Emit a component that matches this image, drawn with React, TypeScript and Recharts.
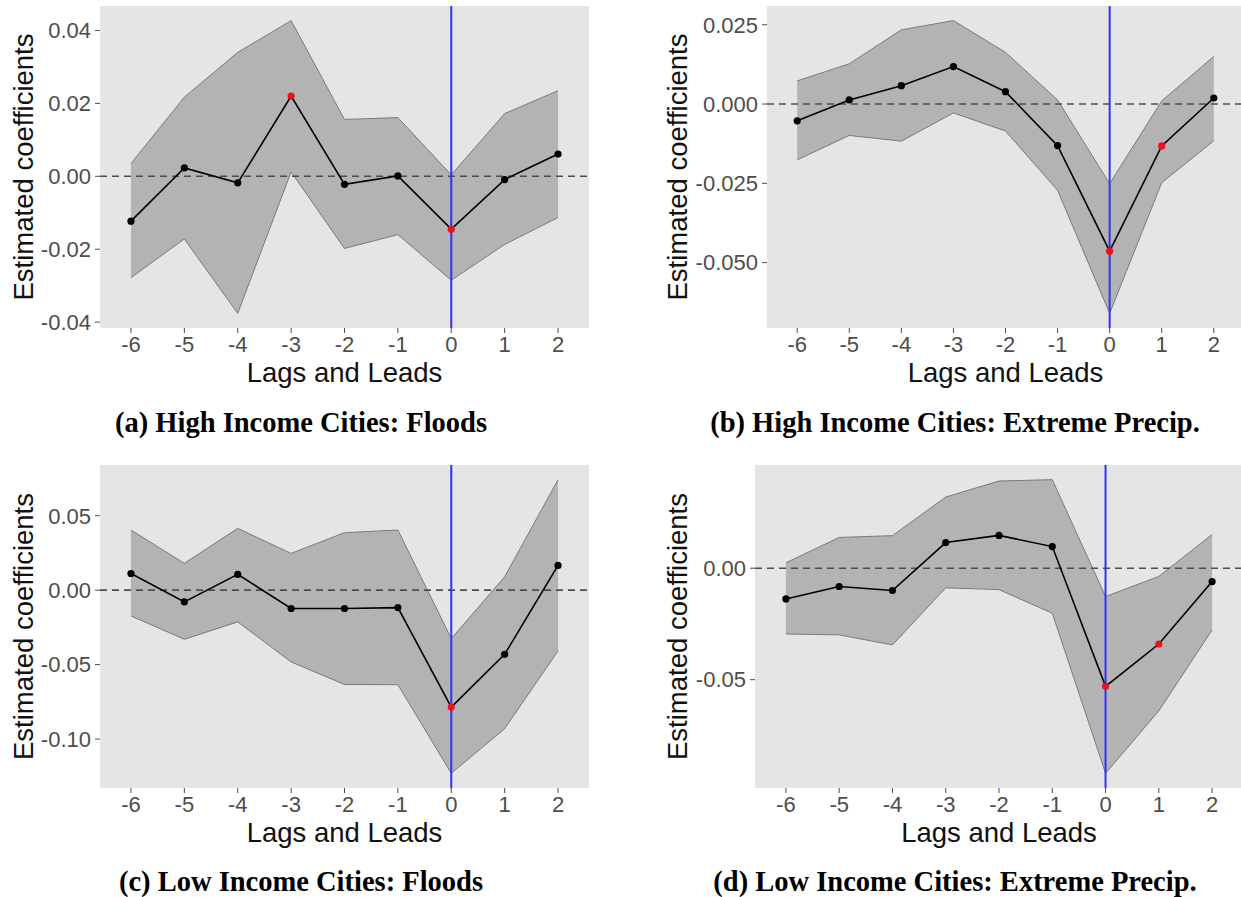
import React from "react";
import {
  ComposedChart,
  Area,
  Line,
  XAxis,
  YAxis,
  CartesianGrid,
  ReferenceLine,
} from "recharts";

const lags = [-6, -5, -4, -3, -2, -1, 0, 1, 2];

// (a) High Income Cities: Floods
const coefA = [-0.0123, 0.0023, -0.0018, 0.022, -0.0022, 0.0001, -0.0145, -0.0009, 0.0061];
const upperA = [0.0035, 0.0217, 0.034, 0.0427, 0.0156, 0.0161, 0.0004, 0.0172, 0.0235];
const lowerA = [-0.0278, -0.0172, -0.0376, 0.0012, -0.0198, -0.016, -0.0285, -0.0187, -0.0113];
const sigA = [0, 0, 0, 1, 0, 0, 1, 0, 0];
const ticksA = [-0.04, -0.02, 0, 0.02, 0.04];

// (b) High Income Cities: Extreme Precip.
const coefB = [-0.0053, 0.0013, 0.0058, 0.0118, 0.0039, -0.0131, -0.0464, -0.0132, 0.0019];
const upperB = [0.0073, 0.0127, 0.0234, 0.0263, 0.0163, 0.0013, -0.0251, 0.001, 0.015];
const lowerB = [-0.0176, -0.0099, -0.0117, -0.0028, -0.0085, -0.0272, -0.066, -0.0248, -0.0116];
const sigB = [0, 0, 0, 0, 0, 0, 1, 1, 0];
const ticksB = [-0.05, -0.025, 0, 0.025];

// (c) Low Income Cities: Floods
const coefC = [0.0112, -0.0079, 0.0106, -0.0123, -0.0123, -0.0117, -0.0785, -0.0431, 0.0166];
const upperC = [0.0404, 0.018, 0.0415, 0.0247, 0.0386, 0.0404, -0.0325, 0.009, 0.0742];
const lowerC = [-0.0173, -0.033, -0.0213, -0.0482, -0.0633, -0.0635, -0.123, -0.093, -0.0408];
const sigC = [0, 0, 0, 0, 0, 0, 1, 0, 0];
const ticksC = [-0.1, -0.05, 0, 0.05];

// (d) Low Income Cities: Extreme Precip.
const coefD = [-0.0138, -0.0082, -0.01, 0.0115, 0.0147, 0.0097, -0.053, -0.034, -0.006];
const upperD = [0.0024, 0.0138, 0.0146, 0.0319, 0.0391, 0.0397, -0.0127, -0.0037, 0.0151];
const lowerD = [-0.0295, -0.0299, -0.0344, -0.0088, -0.0096, -0.0202, -0.092, -0.064, -0.0277];
const sigD = [0, 0, 0, 0, 0, 0, 1, 1, 0];
const ticksD = [-0.05, 0];

const captions = [
  "(a) High Income Cities: Floods",
  "(b) High Income Cities: Extreme Precip.",
  "(c) Low Income Cities: Floods",
  "(d) Low Income Cities: Extreme Precip.",
];

const SANS = "'Liberation Sans', Arial, sans-serif";
const SERIF = "'Liberation Serif', 'Times New Roman', serif";

function build(coef: number[], upper: number[], lower: number[], sig: number[]) {
  return lags.map((lag, i) => ({
    lag,
    coef: coef[i],
    band: [lower[i], upper[i]],
    sig: sig[i],
  }));
}

function expandDomain(upper: number[], lower: number[]): [number, number] {
  const max = Math.max(...upper);
  const min = Math.min(...lower);
  const pad = (max - min) * 0.05;
  return [min - pad, max + pad];
}

type PanelProps = {
  left: number;
  top: number;
  width: number;
  height: number;
  yAxisWidth: number;
  marginTop: number;
  marginRight: number;
  xAxisHeight: number;
  marginBottom: number;
  titleX: number;
  data: any[];
  domain: [number, number];
  ticks: number[];
  decimals: number;
};

function Panel(p: PanelProps) {
  const dot = (props: any) => {
    const { cx, cy, payload, index } = props;
    return (
      <circle
        key={"d" + index}
        cx={cx}
        cy={cy}
        r={3.6}
        fill={payload.sig ? "#E8141B" : "#000000"}
        stroke="none"
      />
    );
  };
  const yLabel = (props: any) => {
    const vb = props.viewBox || {};
    const cx = p.titleX;
    const cy = vb.y + vb.height / 2;
    return (
      <text
        x={cx}
        y={cy}
        transform={`rotate(-90 ${cx} ${cy})`}
        textAnchor="middle"
        dominantBaseline="central"
        fontSize={27.5}
        fontFamily={SANS}
        fill="#111"
      >
        Estimated coefficients
      </text>
    );
  };
  const xLabel = (props: any) => {
    const vb = props.viewBox || {};
    const cx = vb.x + vb.width / 2;
    const cy = vb.y + 44;
    return (
      <text
        x={cx}
        y={cy}
        textAnchor="middle"
        dominantBaseline="central"
        fontSize={27.5}
        fontFamily={SANS}
        fill="#111"
      >
        Lags and Leads
      </text>
    );
  };
  return (
    <div style={{ position: "absolute", left: p.left, top: p.top, width: p.width, height: p.height }}>
      <ComposedChart
        width={p.width}
        height={p.height}
        data={p.data}
        margin={{ top: p.marginTop, right: p.marginRight, bottom: p.marginBottom, left: 0 }}
      >
        <CartesianGrid fill="#E5E5E5" stroke="none" horizontal={false} vertical={false} />
        <XAxis
          type="number"
          dataKey="lag"
          domain={[-6.58, 2.58]}
          ticks={lags}
          allowDataOverflow
          axisLine={false}
          tickLine={{ stroke: "#4D4D4D" }}
          tickSize={5}
          tickMargin={3}
          height={p.xAxisHeight}
          tick={{ fill: "#4D4D4D", fontSize: 22, fontFamily: SANS }}
          interval={0}
          label={xLabel}
        />
        <YAxis
          type="number"
          domain={p.domain}
          ticks={p.ticks}
          allowDataOverflow
          axisLine={false}
          tickLine={{ stroke: "#4D4D4D" }}
          tickSize={5}
          tickMargin={4}
          width={p.yAxisWidth}
          interval={0}
          tick={{ fill: "#4D4D4D", fontSize: 22, fontFamily: SANS }}
          tickFormatter={(v: number) => v.toFixed(p.decimals)}
          label={yLabel}
        />
        <Area
          type="linear"
          dataKey="band"
          fill="#B3B3B3"
          fillOpacity={1}
          stroke="#7A7A7A"
          strokeWidth={1}
          isAnimationActive={false}
          dot={false}
          activeDot={false}
        />
        <ReferenceLine y={0} stroke="#4D4D4D" strokeWidth={1.6} strokeDasharray="7 5" />
        <ReferenceLine x={0} stroke="#3030FF" strokeWidth={2} />
        <Line
          type="linear"
          dataKey="coef"
          stroke="#000000"
          strokeWidth={1.6}
          dot={dot}
          activeDot={false}
          isAnimationActive={false}
        />
      </ComposedChart>
    </div>
  );
}

const dataA = build(coefA, upperA, lowerA, sigA);
const dataB = build(coefB, upperB, lowerB, sigB);
const dataC = build(coefC, upperC, lowerC, sigC);
const dataD = build(coefD, upperD, lowerD, sigD);

function Caption({ x, y, text }: { x: number; y: number; text: string }) {
  return (
    <div
      style={{
        position: "absolute",
        left: x - 300,
        width: 600,
        top: y - 18,
        height: 36,
        lineHeight: "36px",
        textAlign: "center",
        fontFamily: SERIF,
        fontWeight: "bold",
        fontSize: 28.5,
        color: "#000",
        whiteSpace: "nowrap",
      }}
    >
      {text}
    </div>
  );
}

export default function App() {
  return (
    <div
      style={{
        position: "absolute",
        left: 0,
        top: 0,
        width: 1241,
        height: 897,
        overflow: "hidden",
        background: "#fff",
      }}
    >
      <Panel
        left={0}
        top={0}
        width={620}
        height={440}
        yAxisWidth={100}
        marginTop={6}
        marginRight={31}
        xAxisHeight={70}
        marginBottom={42}
        titleX={23}
        data={dataA}
        domain={expandDomain(upperA, lowerA)}
        ticks={ticksA}
        decimals={2}
      />
      <Panel
        left={620}
        top={0}
        width={624}
        height={440}
        yAxisWidth={147}
        marginTop={6}
        marginRight={0}
        xAxisHeight={70}
        marginBottom={42}
        titleX={57}
        data={dataB}
        domain={expandDomain(upperB, lowerB)}
        ticks={ticksB}
        decimals={3}
      />
      <Panel
        left={0}
        top={440}
        width={620}
        height={457}
        yAxisWidth={100}
        marginTop={25}
        marginRight={31}
        xAxisHeight={70}
        marginBottom={39}
        titleX={23}
        data={dataC}
        domain={expandDomain(upperC, lowerC)}
        ticks={ticksC}
        decimals={2}
      />
      <Panel
        left={620}
        top={440}
        width={623}
        height={457}
        yAxisWidth={135}
        marginTop={25}
        marginRight={0}
        xAxisHeight={70}
        marginBottom={39}
        titleX={57}
        data={dataD}
        domain={expandDomain(upperD, lowerD)}
        ticks={ticksD}
        decimals={2}
      />
      <Caption x={301} y={423} text={captions[0]} />
      <Caption x={955} y={423} text={captions[1]} />
      <Caption x={301} y={882} text={captions[2]} />
      <Caption x={955} y={882} text={captions[3]} />
    </div>
  );
}
